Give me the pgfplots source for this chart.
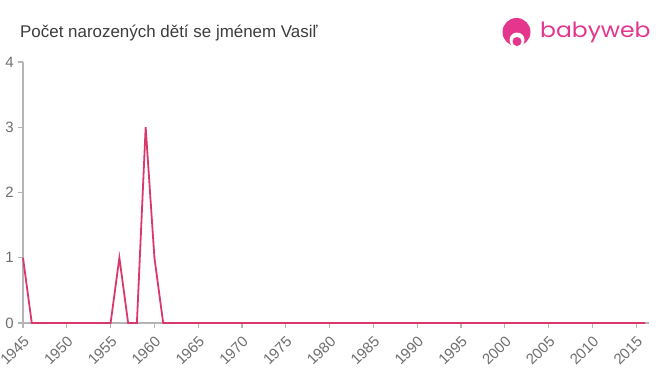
\documentclass[border=0pt]{standalone}
\usepackage{pgfplots}
\pgfplotsset{compat=1.18}
\usepackage{fontspec}
\setmainfont{Liberation Sans}
\newfontfamily\logofont{Poppins}
\definecolor{linec}{RGB}{218,56,106}
\definecolor{axc}{RGB}{180,180,180}
\definecolor{labc}{RGB}{110,110,110}
\definecolor{titc}{RGB}{60,60,60}
\definecolor{logoc}{RGB}{228,54,140}
\begin{document}
\begin{tikzpicture}[x=1bp,y=1bp]
\useasboundingbox (0,0) rectangle (660,375);
\node[anchor=base west, inner sep=0, text=titc, font=\fontsize{17}{20}\selectfont] at (20,338) {Počet narozených dětí se jménem Vasiľ};
% logo
\fill[logoc] (516.5,343) circle (14);
\fill[white] (517,335) circle (7.5);
\fill[logoc] (517,333.5) circle (4.5);
\node[anchor=base west, inner sep=0, text=logoc, font=\logofont\fontsize{21}{24}\selectfont, xscale=1.12] at (540,337.5) {babyweb};
\begin{axis}[
  at={(23bp,52bp)}, anchor=south west,
  scale only axis, width=626bp, height=261bp,
  xmin=1945, xmax=2016.45, ymin=0, ymax=4,
  axis lines*=left,
  axis line style={axc, line width=1.2bp},
  xtick={1945,1950,...,2015}, ytick={0,1,2,3,4},
  tick style={axc, line width=1.2bp},
  tick align=outside, major tick length=5bp,
  /pgf/number format/assume math mode=true,
  /pgf/number format/1000 sep={},
  ticklabel style={text=labc, font=\fontsize{15}{17}\selectfont},
  xticklabel style={rotate=45, anchor=north east, inner sep=1bp, xshift=-4bp, yshift=-3.5bp},
  yticklabel style={inner sep=1bp, xshift=-3bp},
  clip=false,
]
\addplot[linec, line width=1.8bp, mark=none] coordinates {
(1945,1) (1946,0) (1947,0) (1948,0) (1949,0) (1950,0) (1951,0) (1952,0) (1953,0) (1954,0) (1955,0)
(1956,1) (1957,0) (1958,0) (1959,3) (1960,1) (1961,0) (1962,0) (1963,0) (1964,0) (1965,0)
(1966,0) (1967,0) (1968,0) (1969,0) (1970,0) (1971,0) (1972,0) (1973,0) (1974,0) (1975,0)
(1976,0) (1977,0) (1978,0) (1979,0) (1980,0) (1981,0) (1982,0) (1983,0) (1984,0) (1985,0)
(1986,0) (1987,0) (1988,0) (1989,0) (1990,0) (1991,0) (1992,0) (1993,0) (1994,0) (1995,0)
(1996,0) (1997,0) (1998,0) (1999,0) (2000,0) (2001,0) (2002,0) (2003,0) (2004,0) (2005,0)
(2006,0) (2007,0) (2008,0) (2009,0) (2010,0) (2011,0) (2012,0) (2013,0) (2014,0) (2015,0)
(2016,0)
};
\end{axis}
\end{tikzpicture}
\end{document}
